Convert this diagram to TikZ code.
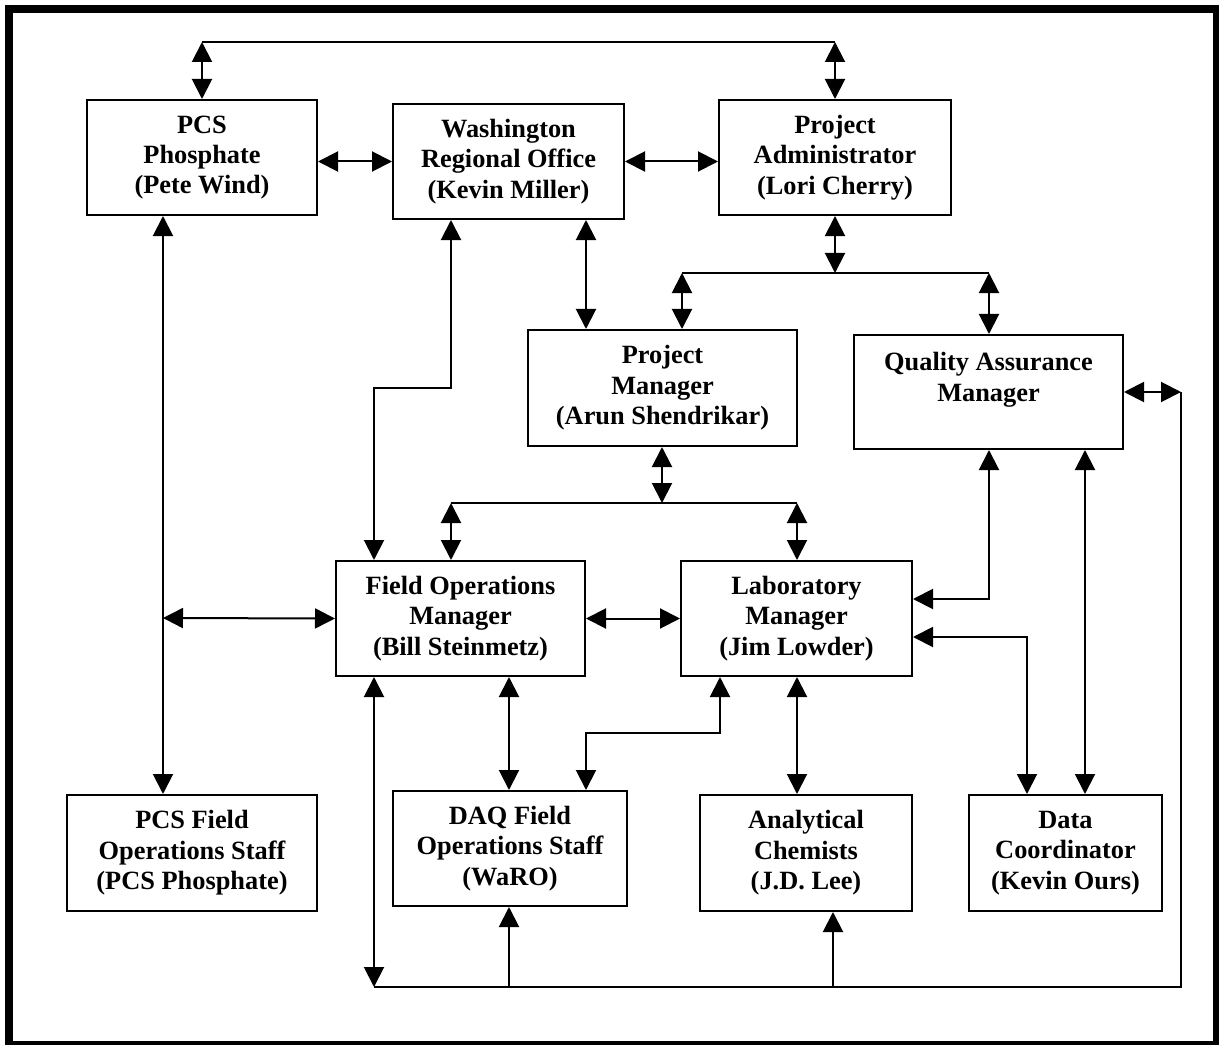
\documentclass[tikz,border=0pt]{standalone}
\usepackage{fontspec}
\setmainfont{Liberation Serif}
\usetikzlibrary{arrows.meta}

\tikzset{
  orgbox/.style={draw,line width=0.4mm,align=center,inner sep=0pt,
    font=\bfseries\fontsize{15}{17.3}\selectfont},
}

\begin{document}
\begin{tikzpicture}[x=0.2mm,y=-0.2mm,line width=0.4mm,>={Triangle[length=4mm,width=4mm]}]
\useasboundingbox (0,0) rectangle (1219,1045);
\draw[line width=1.6mm] (9,9) rectangle (1217,1045);

% boxes
\node[orgbox,minimum width=46mm,minimum height=23mm] (pcs) at (202,157.5) {PCS\\Phosphate\\(Pete Wind)};
\node[orgbox,minimum width=46.2mm,minimum height=23mm] (wro) at (508.5,161.5) {Washington\\Regional Office\\(Kevin Miller)};
\node[orgbox,minimum width=46.4mm,minimum height=23mm] (pa) at (835,157.5) {Project\\Administrator\\(Lori Cherry)};
\node[orgbox,minimum width=53.8mm,minimum height=23.2mm] (pm) at (662.5,388) {Project\\Manager\\(Arun Shendrikar)};
\node[orgbox,minimum width=53.8mm,minimum height=22.8mm] (qa) at (988.5,392) {Quality Assurance\\Manager\\~};
\node[orgbox,minimum width=49.8mm,minimum height=23mm] (fo) at (460.5,618.5) {Field Operations\\Manager\\(Bill Steinmetz)};
\node[orgbox,minimum width=46.2mm,minimum height=23mm] (lab) at (796.5,618.5) {Laboratory\\Manager\\(Jim Lowder)};
\node[orgbox,minimum width=50mm,minimum height=23.2mm] (pcsstaff) at (192,853) {PCS Field\\Operations Staff\\(PCS Phosphate)};
\node[orgbox,minimum width=46.8mm,minimum height=23mm] (daq) at (510,848.5) {DAQ Field\\Operations Staff\\(WaRO)};
\node[orgbox,minimum width=42.4mm,minimum height=23.2mm] (chem) at (806,853) {Analytical\\Chemists\\(J.D. Lee)};
\node[orgbox,minimum width=38.6mm,minimum height=23.2mm] (dc) at (1065.5,853) {Data\\Coordinator\\(Kevin Ours)};

% bends
\coordinate (tl) at (202,42);
\coordinate (tr) at (835,42);
\coordinate (pab) at (835,273);
\coordinate (pal) at (682,273);
\coordinate (par) at (989,273);
\coordinate (wrd) at (586,273);
\coordinate (wra) at (451,388);
\coordinate (wrb) at (374,388);
\coordinate (pmb) at (662,503);
\coordinate (pml) at (451,503);
\coordinate (pmr) at (797,503);
\coordinate (fol) at (163,618);
\coordinate (qal) at (989,599);
\coordinate (lbr) at (1027,637);
\coordinate (qad) at (1085,637);
\coordinate (lba) at (720,733);
\coordinate (lbb) at (586,733);
\coordinate (bl) at (374,987);
\coordinate (br) at (1181,987);
\coordinate (qar) at (1181,392);
\coordinate (bd) at (509,987);
\coordinate (bc) at (833,987);

% top
\draw[<->] (tl) -- (pcs.north);
\draw (tl) -- (tr);
\draw[<->] (tr) -- (pa.north);
\draw[<->] (pcs.east |- wro.west) -- (wro.west);
\draw[<->] (wro.east) -- (pa.west |- wro.east);
\draw[<->] (pa.south) -- (pab);
\draw (pal) -- (par);
\draw[<->] (pal) -- (pal |- pm.north);
\draw[<->] (par) -- (par |- qa.north);
\draw[<->] (wro.south -| wrd) -- (pm.north -| wrd);
\draw[<->] (wro.south -| wra) -- (wra) -- (wrb) -- (fo.north -| wrb);

% middle
\draw[<->] (pm.south -| pmb) -- (pmb);
\draw (pml) -- (pmr);
\draw[<->] (pml) -- (fo.north -| pml);
\draw[<->] (pmr) -- (lab.north -| pmr);
\draw[<->] (pcs.south -| fol) -- (pcsstaff.north -| fol);
\draw[<->] (fol) -- (fo.west);
\draw[<->] (fo.east) -- (lab.west);
\draw[<->] (qa.south -| qal) -- (qal) -- (lab.east |- qal);
\draw[<->] (lab.east |- lbr) -- (lbr) -- (dc.north -| lbr);
\draw[<->] (qa.south -| qad) -- (dc.north -| qad);

% lower
\draw[<->] (fo.south -| bd) -- (daq.north -| bd);
\draw[<->] (lab.south -| lba) -- (lba) -- (lbb) -- (daq.north -| lbb);
\draw[<->] (lab.south -| pmr) -- (chem.north -| pmr);

% bottom line
\draw[<->] (fo.south -| bl) -- (bl);
\draw (bl) -- (br) -- (qar);
\draw[<->] (qar) -- (qa.east |- qar);
\draw[->] (bd) -- (daq.south -| bd);
\draw[->] (bc) -- (chem.south -| bc);
\end{tikzpicture}
\end{document}
